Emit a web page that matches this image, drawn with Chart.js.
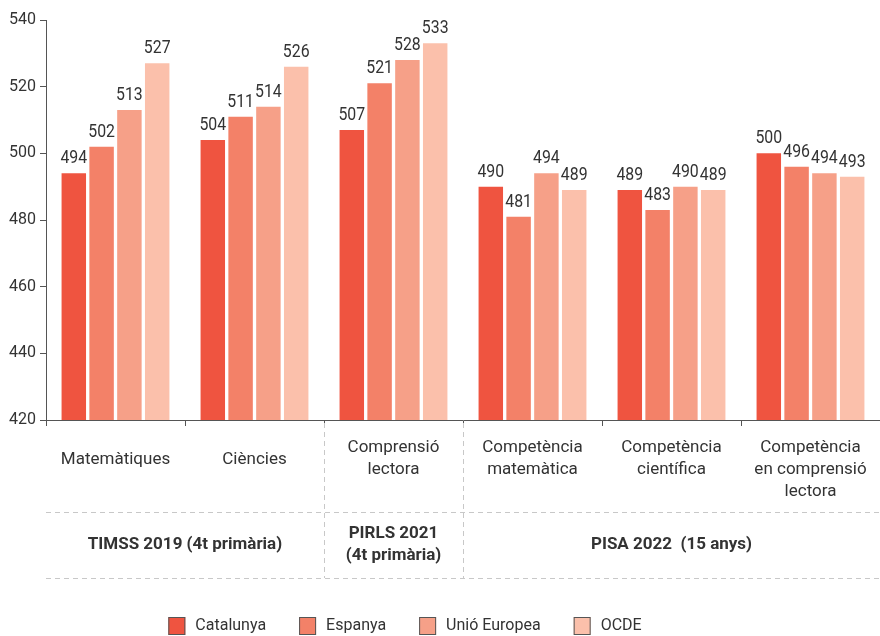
<!DOCTYPE html>
<html>
<head>
<meta charset="utf-8">
<script src="https://cdn.jsdelivr.net/npm/chart.js@4/dist/chart.umd.min.js"></script>
<style>
  body { margin: 0; background: #fff; }
  #wrap { width: 880px; height: 636px; }
</style>
</head>
<body>
<div id="wrap"><canvas id="myChart" width="880" height="636"></canvas></div>
<script>
const categories = [
  ['Matemàtiques'],
  ['Ciències'],
  ['Comprensió', 'lectora'],
  ['Competència', 'matemàtica'],
  ['Competència', 'científica'],
  ['Competència', 'en comprensió', 'lectora']
];
const seriesNames = ['Catalunya', 'Espanya', 'Unió Europea', 'OCDE'];
const catalunya = [494, 504, 507, 490, 489, 500];
const espanya = [502, 511, 521, 481, 483, 496];
const unioEuropea = [513, 514, 528, 494, 490, 494];
const ocde = [527, 526, 533, 489, 489, 493];
const yTicks = [420, 440, 460, 480, 500, 520, 540];
const groupLabels = [['TIMSS 2019 (4t primària)'], ['PIRLS 2021', '(4t primària)'], ['PISA 2022  (15 anys)']];
const groupSpans = [[0, 1], [2, 2], [3, 5]];

const colors = ['#ef5440', '#f38168', '#f6a088', '#fbc0ab'];
const FONT = 'Roboto, "Noto Sans", sans-serif';

// value above each bar, slightly narrow like the original
const valueLabels = {
  id: 'valueLabels',
  afterDatasetsDraw(chart) {
    const ctx = chart.ctx;
    chart.data.datasets.forEach((ds, i) => {
      chart.getDatasetMeta(i).data.forEach((bar, j) => {
        ctx.save();
        ctx.translate(bar.x, bar.y - 10);
        ctx.scale(0.88, 1);
        ctx.font = '18px ' + FONT;
        ctx.fillStyle = '#333';
        ctx.textAlign = 'center';
        ctx.textBaseline = 'alphabetic';
        ctx.fillText(ds.data[j], 0, 0);
        ctx.restore();
      });
    });
  }
};

const groupRows = {
  id: 'groupRows',
  afterDraw(chart) {
    const ctx = chart.ctx;
    const x = chart.scales.x;
    const area = chart.chartArea;
    const step = x.getPixelForValue(1) - x.getPixelForValue(0);
    const left = i => x.getPixelForValue(i) - step / 2;
    const base = area.bottom;
    const row1 = base + 92, row2 = base + 158;

    ctx.save();
    // category labels
    ctx.font = '17px ' + FONT;
    ctx.fillStyle = '#333';
    ctx.textAlign = 'center';
    ctx.textBaseline = 'middle';
    categories.forEach((lines, i) => {
      const cx = x.getPixelForValue(i);
      const y0 = lines.length === 1 ? base + 40 : base + 28;
      lines.forEach((t, k) => ctx.fillText(t, cx, y0 + k * 22));
    });

    // dashed lines
    ctx.strokeStyle = '#c8c8c8';
    ctx.lineWidth = 1;
    ctx.setLineDash([5, 4]);
    ctx.beginPath();
    [row1, row2].forEach(y => {
      ctx.moveTo(area.left, y + 0.5);
      ctx.lineTo(area.right, y + 0.5);
    });
    groupSpans.slice(1).forEach(([a]) => {
      const px = Math.round(left(a)) + 0.5;
      ctx.moveTo(px, base + 3);
      ctx.lineTo(px, row2);
    });
    ctx.stroke();
    ctx.setLineDash([]);

    // group labels
    ctx.font = 'bold 17px ' + FONT;
    groupLabels.forEach((lines, g) => {
      const [a, b] = groupSpans[g];
      const cx = (left(a) + left(b + 1)) / 2;
      const cy = (row1 + row2) / 2;
      const y0 = cy - (lines.length - 1) * 11;
      lines.forEach((t, k) => ctx.fillText(t, cx, y0 + k * 22));
    });

    // legend
    ctx.font = '16px ' + FONT;
    ctx.textAlign = 'left';
    const box = 17, gapText = 10, gapItem = 33;
    const widths = seriesNames.map(n => box + gapText + ctx.measureText(n).width);
    const total = widths.reduce((s, w) => s + w, 0) + gapItem * (seriesNames.length - 1);
    let lx = 405 - total / 2;
    const ly = 626;
    seriesNames.forEach((n, i) => {
      ctx.fillStyle = colors[i];
      ctx.fillRect(lx, ly - 9, box, 18);
      ctx.strokeStyle = '#555';
      ctx.strokeRect(lx + 0.5, ly - 8.5, box - 1, 17);
      ctx.fillStyle = '#333';
      ctx.fillText(n, lx + box + gapText, ly);
      lx += widths[i] + gapItem;
    });
    ctx.restore();
  }
};

new Chart(document.getElementById('myChart'), {
  type: 'bar',
  data: {
    labels: categories,
    datasets: [catalunya, espanya, unioEuropea, ocde].map((d, i) => ({
      label: seriesNames[i],
      data: d,
      backgroundColor: colors[i],
      borderWidth: 0
    }))
  },
  options: {
    responsive: false,
    animation: false,
    events: [],
    layout: { padding: { top: 20, right: 0, left: 0, bottom: 0 } },
    datasets: { bar: { categoryPercentage: 0.8, barPercentage: 0.88 } },
    plugins: {
      tooltip: { enabled: false },
      legend: { display: false }
    },
    scales: {
      x: {
        grid: { display: true, drawOnChartArea: false, drawTicks: true, tickLength: 6, color: '#555', offset: true },
        border: { color: '#555', width: 1 },
        ticks: { display: false },
        afterFit(axis) { axis.height = 216; }
      },
      y: {
        min: 420,
        max: 540,
        afterBuildTicks(axis) { axis.ticks = yTicks.map(v => ({ value: v })); },
        grid: { display: true, drawOnChartArea: false, drawTicks: true, tickLength: 6, color: '#555' },
        border: { color: '#555', width: 1 },
        ticks: { font: { size: 16, family: FONT }, color: '#333', padding: 4 },
        afterFit(axis) { axis.width = 46; }
      }
    }
  },
  plugins: [valueLabels, groupRows]
});
</script>
</body>
</html>
